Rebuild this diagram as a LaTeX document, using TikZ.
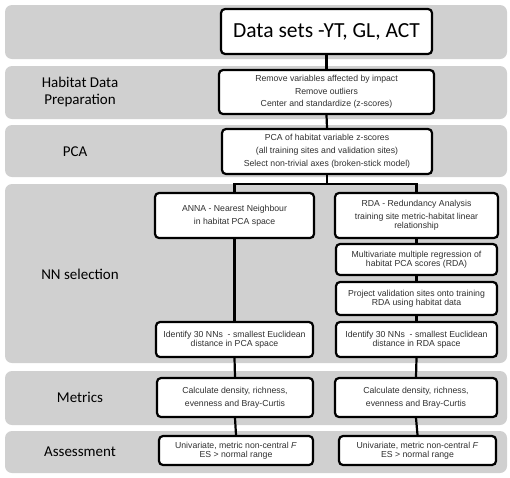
\documentclass[tikz,border=0pt]{standalone}
\usepackage{fontspec}
\setmainfont{Liberation Sans}
\newfontfamily\labfont{Carlito}
\definecolor{band}{HTML}{D0D0D0}
\definecolor{txt}{HTML}{303030}
\tikzset{
  bandbox/.style={fill=band, draw=none, rounded corners=7pt},
  stepbox/.style={draw=black, line width=2.2pt, fill=white, rounded corners=4pt,
    align=center, inner sep=0pt, text=txt, font=\fontsize{8.7}{9.3}\selectfont},
  bandlabel/.style={font=\labfont\fontsize{15}{17}\selectfont, align=center, text=black},
  conn/.style={line width=2.2pt, draw=black}
}
\begin{document}
\begin{tikzpicture}[x=1pt,y=-1pt]
\useasboundingbox (0,0) rectangle (510,477);
% bands
\fill[bandbox] (5,5) rectangle (507,59);
\fill[bandbox] (5,66) rectangle (507,119);
\fill[bandbox] (5,125) rectangle (507,177);
\fill[bandbox] (5,184) rectangle (507,363);
\fill[bandbox] (5,371) rectangle (507,425);
\fill[bandbox] (5,431) rectangle (507,473);
% band labels
\node[bandlabel] (lhab) at (80,92) {Habitat Data\\Preparation};
\node[bandlabel] (lpca) at (75,152) {PCA};
\node[bandlabel] (lnn) at (80,274) {NN selection};
\node[bandlabel] (lmet) at (80,397) {Metrics};
\node[bandlabel] (lass) at (80,452) {Assessment};
% boxes
\node[stepbox, minimum width=211pt, minimum height=45pt, font=\labfont\fontsize{21.5}{24}\selectfont, text=black] (ds) at (326.5,31.5) {Data sets -YT, GL, ACT};
\node[stepbox, minimum width=215pt, minimum height=44pt] (hab) at (326.5,92) {Remove variables affected by impact\\[3pt]Remove outliers\\[3pt]Center and standardize (z-scores)};
\node[stepbox, minimum width=210pt, minimum height=45pt] (pca) at (327,151.5) {PCA of habitat variable z-scores\\[3.5pt](all training sites and validation sites)\\[3.5pt]Select non-trivial axes (broken-stick model)};
\node[stepbox, minimum width=159pt, minimum height=45pt] (anna) at (234.5,215.5) {ANNA - Nearest Neighbour\\[3.5pt]in habitat PCA space};
\node[stepbox, minimum width=163pt, minimum height=45pt] (rda) at (416.5,215.5) {RDA - Redundancy Analysis\\[3.5pt]training site metric-habitat linear\\relationship};
\node[stepbox, minimum width=161pt, minimum height=31pt] (mvr) at (416.5,259.5) {Multivariate multiple regression of\\habitat PCA scores (RDA)};
\node[stepbox, minimum width=161pt, minimum height=33pt] (proj) at (416.5,298.5) {Project validation sites onto training\\RDA using habitat data};
\node[stepbox, minimum width=157pt, minimum height=35pt] (idl) at (234.5,339.5) {Identify 30 NNs\ \ - smallest Euclidean\\distance in PCA space};
\node[stepbox, minimum width=161pt, minimum height=35pt] (idr) at (416.5,339.5) {Identify 30 NNs\ \ - smallest Euclidean\\distance in RDA space};
\node[stepbox, minimum width=156pt, minimum height=39pt] (metl) at (235,397.5) {Calculate density, richness,\\[3.5pt]evenness and Bray-Curtis};
\node[stepbox, minimum width=162pt, minimum height=39pt] (metr) at (416,397.5) {Calculate density, richness,\\[3.5pt]evenness and Bray-Curtis};
\node[stepbox, minimum width=154pt, minimum height=29pt] (asl) at (236,450.5) {Univariate, metric non-central \textit{F}\\ES {\textgreater} normal range};
\node[stepbox, minimum width=157pt, minimum height=29pt] (asr) at (417.5,450.5) {Univariate, metric non-central \textit{F}\\ES {\textgreater} normal range};
% connectors
\draw[conn] (ds.south) -- (hab.north);
\draw[conn] (hab.south) -- (pca.north);
\draw[conn] (pca.south) -- ++(0,9) coordinate (split);
\draw[conn] (anna.north) |- (split) -| (rda.north);
\draw[conn] (anna.south) -- (idl.north);
\draw[conn] (rda.south) -- (mvr.north);
\draw[conn] (mvr.south) -- (proj.north);
\draw[conn] (proj.south) -- (idr.north);
\draw[conn] (idl.south) -- (metl.north);
\draw[conn] (idr.south) -- (metr.north);
\draw[conn] (metl.south) -- (asl.north);
\draw[conn] (metr.south) -- (asr.north);
\end{tikzpicture}
\end{document}
